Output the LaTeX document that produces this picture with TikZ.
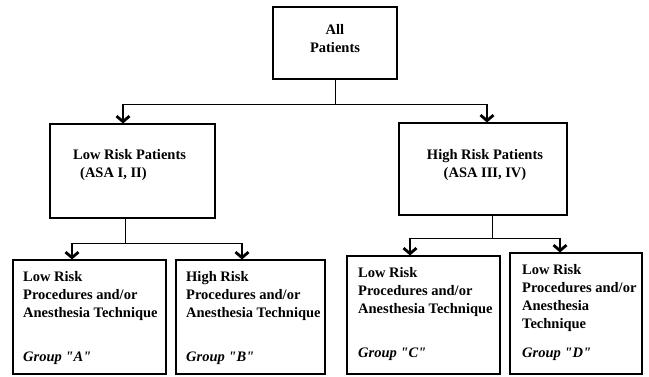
\documentclass[tikz,border=0pt]{standalone}
\usepackage{fontspec}
\setmainfont{Liberation Serif}[Ligatures=TeXOff]
\usetikzlibrary{arrows.meta,positioning,calc}

\begin{document}
\begin{tikzpicture}[
        x=1pt, y=-1pt,
        font=\fontsize{14.5}{18}\selectfont\bfseries,
        % Block styles
        panel/.style={
            rectangle,
            draw=black,
            line width=1.1pt,
            inner sep=0pt,
            minimum width=#1
        },
        caption/.style={
            inner sep=0pt,
            align=left
        },
        grouplabel/.style={
            inner sep=0pt,
            anchor=base west,
            font=\fontsize{14.5}{18}\selectfont\bfseries\itshape
        },
        link/.style={line width=0.9pt},
        drop/.style={line width=2.8pt, -{Straight Barb[length=5.5pt,width=13pt,line width=2.8pt]}}
    ]
    \useasboundingbox (0,0) rectangle (649,377);

    % Top
    \node[panel=124pt, minimum height=72pt] (all) at (335,43) {};
    \node[caption, align=center, anchor=north] (alltxt) at (335,24) {All\\Patients};

    % Risk classes
    \node[panel=165pt, minimum height=94pt] (low) at (132.5,171) {};
    \node[caption, anchor=north west] (lowtxt) at (73,149) {Low Risk Patients\\\hspace*{7pt}(ASA I, II)};

    \node[panel=168pt, minimum height=92pt] (high) at (483,169) {};
    \node[caption, align=center, anchor=north] (hightxt) at (485,149) {High Risk Patients\\(ASA III, IV)};

    % Groups
    \node[panel=153pt, minimum height=114pt] (grpA) at (89.5,317) {};
    \node[caption, anchor=north west] (txtA) at (23,271) {Low Risk\\Procedures and/or\\Anesthesia Technique};
    \node[grouplabel] (labA) at (23,362) {Group "A"};

    \node[panel=149pt, minimum height=114pt] (grpB) at (250.5,317) {};
    \node[caption, anchor=north west] (txtB) at (186,271) {High Risk\\Procedures and/or\\Anesthesia Technique};
    \node[grouplabel] (labB) at (186,362) {Group "B"};

    \node[panel=153pt, minimum height=118pt] (grpC) at (423.5,315) {};
    \node[caption, anchor=north west] (txtC) at (358,267) {Low Risk\\Procedures and/or\\Anesthesia Technique};
    \node[grouplabel] (labC) at (358,358) {Group "C"};

    \node[panel=132pt, minimum height=121pt] (grpD) at (576,313.5) {};
    \node[caption, anchor=north west] (txtD) at (522,264) {Low Risk\\Procedures and/or\\Anesthesia\\Technique};
    \node[grouplabel] (labD) at (522,357) {Group "D"};

    % Split points
    \coordinate (s0) at (335,104);
    \coordinate (s0l) at (123,104);
    \coordinate (s0r) at (487,104);
    \coordinate (s1) at (125,243);
    \coordinate (s1l) at (72,243);
    \coordinate (s1r) at (242,243);
    \coordinate (s2) at (492,238);
    \coordinate (s2l) at (410,238);
    \coordinate (s2r) at (560,238);

    % Connections
    \draw[link] (all) -- (s0);
    \draw[link] (s0l) -- (s0r);
    \draw[drop] (s0l) -- (s0l |- low.north);
    \draw[drop] (s0r) -- (s0r |- high.north);

    \draw[link] (low.south -| s1) -- (s1);
    \draw[link] (s1l) -- (s1r);
    \draw[drop] (s1l) -- (s1l |- grpA.north);
    \draw[drop] (s1r) -- (s1r |- grpB.north);

    \draw[link] (high.south -| s2) -- (s2);
    \draw[link] (s2l) -- (s2r);
    \draw[drop] (s2l) -- (s2l |- grpC.north);
    \draw[drop] (s2r) -- (s2r |- grpD.north);

\end{tikzpicture}
\end{document}
